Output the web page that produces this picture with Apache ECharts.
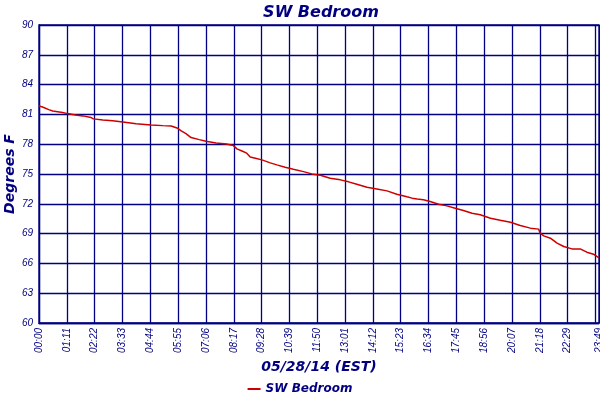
<!DOCTYPE html>
<html>
<head>
<meta charset="utf-8">
<script src="https://cdn.jsdelivr.net/npm/echarts@6/dist/echarts.min.js"></script>
</head>
<body style="margin:0">
<div id="container" style="width:600px;height:400px;"></div>
<script type="text/javascript">
// minutes since 00:00 on 05/28/14
var minutes = [0, 9, 25, 35, 60, 73, 93, 112, 133, 139, 163, 188, 214, 248, 286, 316, 337, 354, 363, 375,
  388, 409, 426, 452, 478, 496, 505, 518, 530, 539, 552, 569, 590, 607, 628, 649, 675, 696, 718, 743,
  769, 790, 811, 837, 862, 888, 913, 939, 952, 965, 981, 998, 1020, 1041, 1062, 1083, 1105, 1126, 1152, 1177,
  1203, 1228, 1254, 1275, 1279, 1288, 1305, 1322, 1339, 1360, 1381, 1398, 1415, 1429];
var temps = [81.85, 81.75, 81.48, 81.35, 81.2, 81.08, 80.95, 80.85, 80.68, 80.55, 80.44, 80.37, 80.24, 80.07, 79.94, 79.87, 79.84, 79.6, 79.34, 79.07,
  78.67, 78.46, 78.3, 78.13, 78.03, 77.86, 77.53, 77.32, 77.1, 76.72, 76.59, 76.42, 76.12, 75.92, 75.68, 75.48, 75.24, 75.01, 74.88, 74.58,
  74.41, 74.21, 73.97, 73.67, 73.5, 73.3, 72.97, 72.7, 72.57, 72.48, 72.4, 72.23, 71.96, 71.79, 71.56, 71.32, 71.05, 70.89, 70.55, 70.35,
  70.15, 69.81, 69.55, 69.45, 69.04, 68.77, 68.54, 68.04, 67.7, 67.46, 67.46, 67.13, 66.93, 66.55];
var seriesName = 'SW Bedroom';

var navy = '#000080';
var pts = [];
for (var i = 0; i < minutes.length; i++) pts.push([minutes[i], temps[i]]);

function hhmm(v) {
  var h = Math.floor(v / 60), m = Math.round(v % 60);
  return (h < 10 ? '0' : '') + h + ':' + (m < 10 ? '0' : '') + m;
}

var chart = echarts.init(document.getElementById('container'));
var option = {
  animation: false,
  backgroundColor: '#fff',
  title: {
    text: 'SW Bedroom',
    left: 316, top: 0, textAlign: 'center',
    textStyle: { color: navy, fontSize: 16, fontStyle: 'italic', fontWeight: 'bold', fontFamily: 'DejaVu Sans' }
  },
  legend: {
    data: [seriesName],
    bottom: 0, left: 'center',
    icon: 'rect', itemWidth: 13, itemHeight: 2, itemGap: 4,
    textStyle: { color: navy, fontSize: 12, fontStyle: 'italic', fontWeight: 'bold', fontFamily: 'DejaVu Sans' }
  },
  grid: { left: 39, top: 25, right: 1, bottom: 77, containLabel: false, outerBoundsMode: 'none',
    show: true, borderColor: navy, borderWidth: 1.3 },
  xAxis: {
    type: 'value', min: 0, max: 1429, interval: 71,
    name: '05/28/14 (EST)', nameLocation: 'middle', nameGap: 37, nameMoveOverlap: false,
    nameTextStyle: { color: navy, fontSize: 14, fontStyle: 'italic', fontWeight: 'bold', fontFamily: 'DejaVu Sans' },
    axisLine: { lineStyle: { color: navy, width: 1.3 } },
    axisTick: { show: false },
    axisLabel: { rotate: 90, color: navy, fontSize: 10, fontStyle: 'italic', fontFamily: 'Liberation Sans', margin: 5,
      formatter: hhmm, showMaxLabel: true, hideOverlap: false },
    splitLine: { lineStyle: { color: navy, width: 1.3 } }
  },
  yAxis: {
    type: 'value', min: 60, max: 90, interval: 3,
    name: 'Degrees F', nameLocation: 'middle', nameGap: 22, nameMoveOverlap: false,
    nameTextStyle: { color: navy, fontSize: 14, fontStyle: 'italic', fontWeight: 'bold', fontFamily: 'DejaVu Sans' },
    axisLine: { lineStyle: { color: navy, width: 1.3 } },
    axisTick: { show: false },
    axisLabel: { color: navy, fontSize: 10, fontStyle: 'italic', fontFamily: 'Liberation Sans', margin: 6 },
    splitLine: { lineStyle: { color: navy, width: 1.3 } }
  },
  series: [{
    name: seriesName,
    type: 'line',
    data: pts,
    showSymbol: false,
    color: '#cc0000',
    lineStyle: { color: '#cc0000', width: 1.5 }
  }]
};
chart.setOption(option);
</script>
</body>
</html>
